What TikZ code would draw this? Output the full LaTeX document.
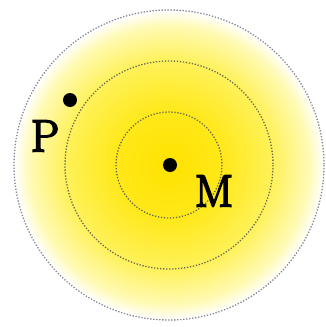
\documentclass[tikz,border=0pt]{standalone}
\usepackage{fontspec}
\newfontfamily\lblfont{Latin Modern Roman}[FakeBold=4]
\definecolor{sunA}{RGB}{255,226,0}
\definecolor{sunB}{RGB}{255,232,25}
\definecolor{sunC}{RGB}{255,241,90}
\definecolor{sunD}{RGB}{255,250,180}
\definecolor{ringgray}{RGB}{105,105,85}
\definecolor{outergray}{RGB}{135,132,150}
\pgfdeclareradialshading{sunglow}{\pgfpoint{0bp}{0bp}}{%
 color(0bp)=(sunA); color(8.5bp)=(sunB); color(16.8bp)=(sunC); color(22.5bp)=(sunD); color(25bp)=(white); color(50bp)=(white)}
\begin{document}
\begin{tikzpicture}[x=1pt,y=-1pt,
  ring/.style={draw=ringgray, line width=1.3pt, dash pattern=on 1.3pt off 1.7pt},
  outerring/.style={draw=outergray, line width=1.3pt, dash pattern=on 1.3pt off 1.7pt},
  spot/.style={circle, fill=black, inner sep=0pt, minimum size=14pt},
  lbl/.style={inner sep=0pt, font=\lblfont\fontsize{45}{45}\selectfont}]
\useasboundingbox (0,0) rectangle (325,327);
\coordinate (C) at (169,165);
\shade[shading=sunglow] (C) circle[radius=155];
\draw[outerring] (C) circle[radius=155];
\draw[ring] (C) circle[radius=104];
\draw[ring] (C) circle[radius=53];
\node[spot] (M) at (170,165) {};
\node[spot] (P) at (70,100) {};
\node[lbl] (Plabel) at (45,136) {P};
\node[lbl] (Mlabel) at (214,191) {M};
\end{tikzpicture}
\end{document}
